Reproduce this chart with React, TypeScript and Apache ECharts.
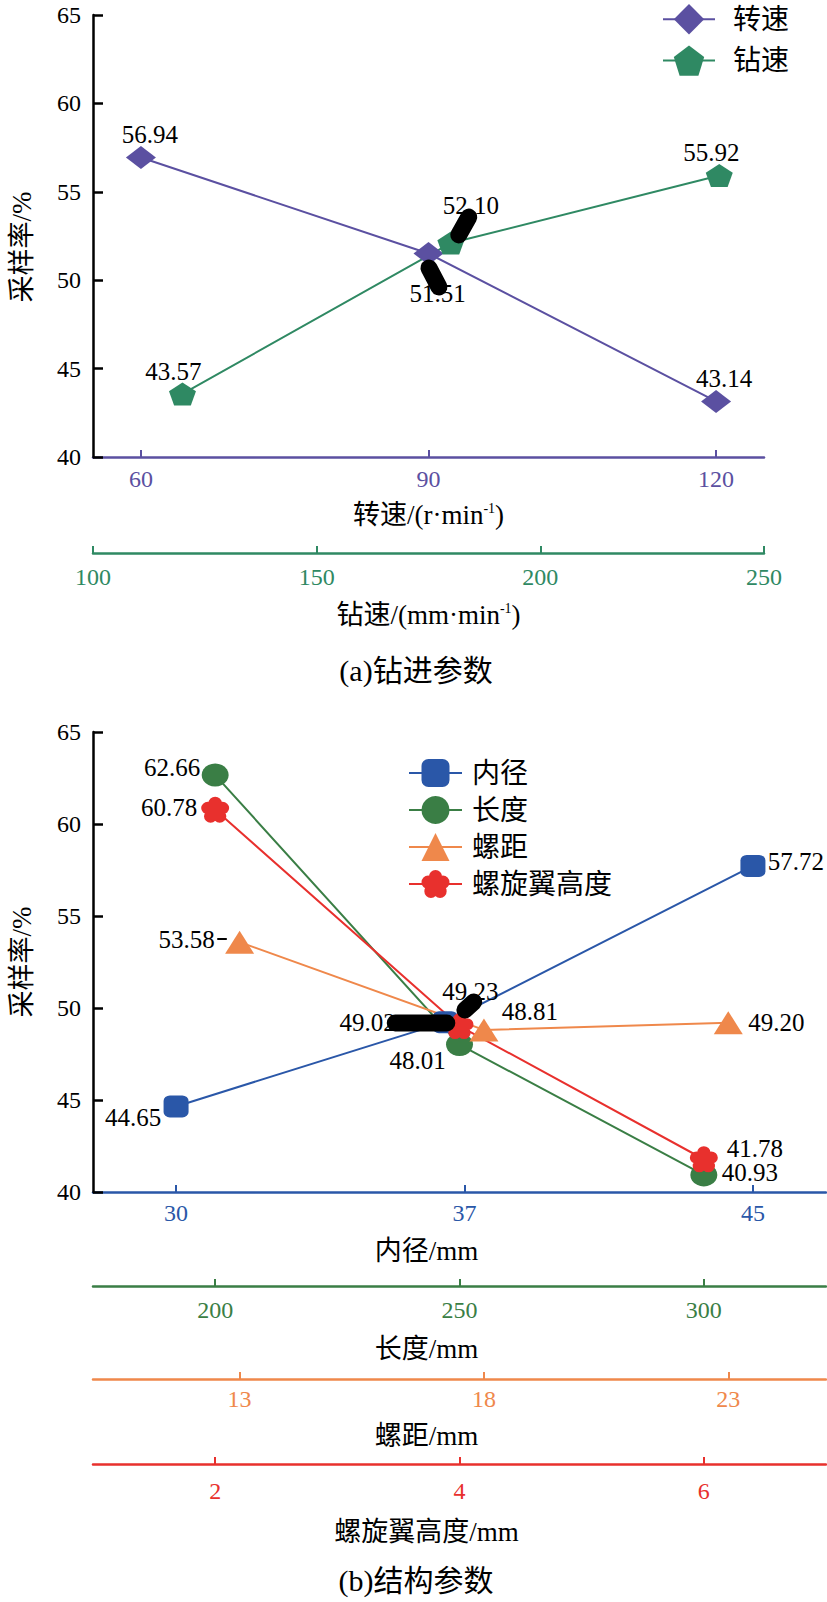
import React, { useEffect, useRef } from 'react';
import * as echarts from 'echarts';

// ---------- Chart (a): drilling parameters ----------
const rotSpeedX = [60, 90, 120];
const rotSpeedRate = [56.94, 51.51, 43.14];
const drillSpeedX = [120, 180, 240];
const drillSpeedRate = [43.57, 52.1, 55.92];
const rotSpeedTicks = [60, 90, 120];
const drillSpeedTicks = [100, 150, 200, 250];

// ---------- Chart (b): structural parameters ----------
const innerDiaX = [30, 37, 45];
const innerDiaRate = [44.65, 49.23, 57.72];
const innerDiaTicks = [30, 37.5, 45];
const innerDiaTickLabels = ['30', '37', '45'];
const lengthX = [200, 250, 300];
const lengthRate = [62.66, 48.01, 40.93];
const lengthTicks = [200, 250, 300];
const pitchX = [13, 18, 23];
const pitchRate = [53.58, 48.81, 49.2];
const pitchTicks = [13, 18, 23];
const bladeX = [2, 4, 6];
const bladeRate = [60.78, 49.02, 41.78];
const bladeTicks = [2, 4, 6];

// thick black leader strokes seen in the figure (data coordinates)
const leadersA = [
  [[94.2, 53.57], [93.16, 52.56]],
  [[90.05, 50.69], [91.09, 49.62]],
];
const leadersB = [
  [[35.7, 49.18], [37.04, 49.18]],
  [[37.51, 49.89], [37.74, 50.33]],
];
const dashB = [[31.09, 53.75], [31.3, 53.75]];

// label offsets (px) relative to each marker
const offRot = [[9, -23], [9, 40], [8, -23]];
const offDrill = [[-9, -22], [20, -38], [-8, -23]];
const offInner = [[-43, 11], [25, -31], [43, -4]];
const offLength = [[-43, -8], [-42, 16], [46, -2]];
const offPitch = [[-53, -3], [46, -18], [48, 0]];
const offBlade = [[-46, -2], [-92, -4], [51, -11]];

const FONT = 'Liberation Serif, Times New Roman, Noto Sans CJK SC, serif';

const C_PURPLE = '#5B50A1';
const C_GREEN_A = '#2F8963';
const C_BLUE = '#2A57A8';
const C_GREEN_B = '#3A7E45';
const C_ORANGE = '#EF884B';
const C_RED = '#E8302D';

const PENTAGON = 'path://M50 0 L97.55 34.55 L79.39 90.45 L20.61 90.45 L2.45 34.55 Z';

function flowerPath(): string {
  const r = 23;
  const d = 27;
  let p = '';
  const circle = (cx: number, cy: number, rr: number) =>
    `M${(cx - rr).toFixed(2)} ${cy.toFixed(2)} A${rr} ${rr} 0 1 0 ${(cx + rr).toFixed(2)} ${cy.toFixed(2)} A${rr} ${rr} 0 1 0 ${(cx - rr).toFixed(2)} ${cy.toFixed(2)} Z `;
  for (let k = 0; k < 5; k++) {
    const a = ((-90 + 72 * k) * Math.PI) / 180;
    p += circle(50 + d * Math.cos(a), 50 + d * Math.sin(a), r);
  }
  p += circle(50, 50, 28);
  return 'path://' + p;
}
const FLOWER = flowerPath();

function lineSeries(
  name: string,
  xs: number[],
  ys: number[],
  xAxisIndex: number,
  yAxisIndex: number,
  color: string,
  symbol: string,
  symbolSize: number[],
  offsets: number[][]
) {
  return {
    type: 'line',
    name,
    xAxisIndex,
    yAxisIndex,
    data: xs.map((x, i) => ({ value: [x, ys[i]], label: { offset: offsets[i] } })),
    symbol,
    symbolSize,
    showAllSymbol: true,
    itemStyle: { color, opacity: 1 },
    lineStyle: { color, width: 2 },
    label: {
      show: true,
      position: 'inside',
      formatter: (p: any) => Number(p.value[1]).toFixed(2),
      color: '#000',
      fontSize: 25,
      fontFamily: FONT,
    },
    emphasis: { disabled: true },
    z: 3,
  };
}

function leaderSeries(seg: number[][], xAxisIndex: number, yAxisIndex: number, width: number) {
  return {
    type: 'line',
    xAxisIndex,
    yAxisIndex,
    data: seg,
    symbol: 'none',
    lineStyle: { color: '#000', width, cap: 'round' },
    silent: true,
    emphasis: { disabled: true },
    z: 6,
  };
}

function xAxis(o: {
  grid: number;
  min: number;
  max: number;
  color: string;
  ticks: number[];
  labels?: string[];
  offset: number;
  name: string;
  nameGap: number;
  labelMargin: number;
  namePad: number;
}) {
  return {
    type: 'value',
    gridIndex: o.grid,
    position: 'bottom',
    offset: o.offset,
    min: o.min,
    max: o.max,
    name: o.name,
    nameLocation: 'middle',
    nameGap: o.nameGap,
    nameTextStyle: {
      fontSize: 27,
      fontFamily: FONT,
      color: '#000',
      padding: [0, o.namePad, 0, 0],
      rich: {
        sup: { fontSize: 14, fontFamily: FONT, color: '#000', padding: [0, 0, 12, 0] },
      },
    },
    splitLine: { show: false },
    axisLine: { show: true, onZero: false, lineStyle: { color: o.color, width: 2.5 } },
    axisTick: {
      show: true,
      inside: true,
      length: 7,
      lineStyle: { color: o.color, width: 2 },
      customValues: o.ticks,
    },
    axisLabel: {
      show: true,
      color: o.color,
      fontSize: 24,
      fontFamily: FONT,
      margin: o.labelMargin,
      customValues: o.ticks,
      showMinLabel: true,
      showMaxLabel: true,
      formatter: (v: number) => {
        if (o.labels) {
          const idx = o.ticks.indexOf(v);
          return idx >= 0 ? o.labels[idx] : '';
        }
        return String(v);
      },
    },
  };
}

function yAxis(grid: number, namePad: number[]) {
  return {
    type: 'value',
    gridIndex: grid,
    min: 40,
    max: 65,
    interval: 5,
    name: '采样率/%',
    nameLocation: 'middle',
    nameGap: 58,
    nameTextStyle: { fontSize: 27, fontFamily: FONT, color: '#000', padding: namePad },
    splitLine: { show: false },
    axisLine: { show: true, onZero: false, lineStyle: { color: '#000', width: 2.5 } },
    axisTick: { show: true, inside: true, length: 10, lineStyle: { color: '#000', width: 2.5 } },
    axisLabel: { color: '#000', fontSize: 24, fontFamily: FONT, margin: 12 },
    z: 4,
  };
}

function buildOption() {
  return {
    animation: false,
    backgroundColor: '#fff',
    textStyle: { fontFamily: FONT },
    grid: [
      { left: 89, top: 15, width: 675, height: 442 },
      { left: 89, top: 732, width: 737, height: 460 },
    ],
    xAxis: [
      xAxis({ grid: 0, min: 55, max: 125, color: C_PURPLE, ticks: rotSpeedTicks, offset: 0, name: '转速/(r·min{sup|-1})', nameGap: 44, labelMargin: 10, namePad: 0 }),
      xAxis({ grid: 0, min: 100, max: 250, color: C_GREEN_A, ticks: drillSpeedTicks, offset: 96, name: '钻速/(mm·min{sup|-1})', nameGap: 48, labelMargin: 12, namePad: 0 }),
      xAxis({ grid: 1, min: 27.84, max: 46.9, color: C_BLUE, ticks: innerDiaTicks, labels: innerDiaTickLabels, offset: 0, name: '内径/mm', nameGap: 45, labelMargin: 9, namePad: 66 }),
      xAxis({ grid: 1, min: 175, max: 325, color: C_GREEN_B, ticks: lengthTicks, offset: 94, name: '长度/mm', nameGap: 49, labelMargin: 12, namePad: 66 }),
      xAxis({ grid: 1, min: 10, max: 25, color: C_ORANGE, ticks: pitchTicks, offset: 187, name: '螺距/mm', nameGap: 43, labelMargin: 8, namePad: 66 }),
      xAxis({ grid: 1, min: 1, max: 7, color: C_RED, ticks: bladeTicks, offset: 272, name: '螺旋翼高度/mm', nameGap: 54, labelMargin: 15, namePad: 66 }),
    ],
    yAxis: [yAxis(0, [0, 22, 0, 0]), yAxis(1, [0, 0, 0, 0])],
    legend: [
      {
        data: ['转速', '钻速'],
        orient: 'vertical',
        left: 657,
        top: -1,
        itemWidth: 52,
        itemHeight: 38,
        itemGap: 11,
        selectedMode: false,
        textStyle: { fontSize: 28, fontFamily: FONT, color: '#000', padding: [0, 0, 0, 13] },
      },
      {
        data: ['内径', '长度', '螺距', '螺旋翼高度'],
        orient: 'vertical',
        left: 403,
        top: 754,
        itemWidth: 53,
        itemHeight: 35,
        itemGap: 9,
        selectedMode: false,
        textStyle: { fontSize: 28, fontFamily: FONT, color: '#000', padding: [0, 0, 0, 5] },
      },
    ],
    graphic: [
      {
        type: 'text',
        x: 416,
        y: 670,
        style: { text: '(a)钻进参数', fontSize: 30, fontFamily: FONT, fill: '#000', align: 'center', verticalAlign: 'middle', textAlign: 'center', textVerticalAlign: 'middle' },
      },
      {
        type: 'text',
        x: 416,
        y: 1580,
        style: { text: '(b)结构参数', fontSize: 30, fontFamily: FONT, fill: '#000', align: 'center', verticalAlign: 'middle', textAlign: 'center', textVerticalAlign: 'middle' },
      },
    ],
    series: [
      lineSeries('转速', rotSpeedX, rotSpeedRate, 0, 0, C_PURPLE, 'diamond', [30, 23], offRot),
      lineSeries('钻速', drillSpeedX, drillSpeedRate, 1, 0, C_GREEN_A, PENTAGON, [27, 23], offDrill),
      ...leadersA.map((s) => leaderSeries(s, 0, 0, 17)),
      lineSeries('内径', innerDiaX, innerDiaRate, 2, 1, C_BLUE, 'roundRect', [25, 22], offInner),
      lineSeries('长度', lengthX, lengthRate, 3, 1, C_GREEN_B, 'circle', [27, 23], offLength),
      lineSeries('螺距', pitchX, pitchRate, 4, 1, C_ORANGE, 'triangle', [29, 23], offPitch),
      lineSeries('螺旋翼高度', bladeX, bladeRate, 5, 1, C_RED, FLOWER, [28, 26], offBlade),
      ...leadersB.map((s) => leaderSeries(s, 2, 1, 17)),
      leaderSeries(dashB, 2, 1, 2),
    ],
  };
}

export default function App() {
  const ref = useRef<HTMLDivElement>(null);
  useEffect(() => {
    document.body.style.margin = '0';
    const chart = echarts.init(ref.current as HTMLDivElement, null, { renderer: 'svg' });
    chart.setOption(buildOption() as any);
    return () => chart.dispose();
  }, []);
  return <div ref={ref} style={{ width: 827, height: 1602 }} />;
}
